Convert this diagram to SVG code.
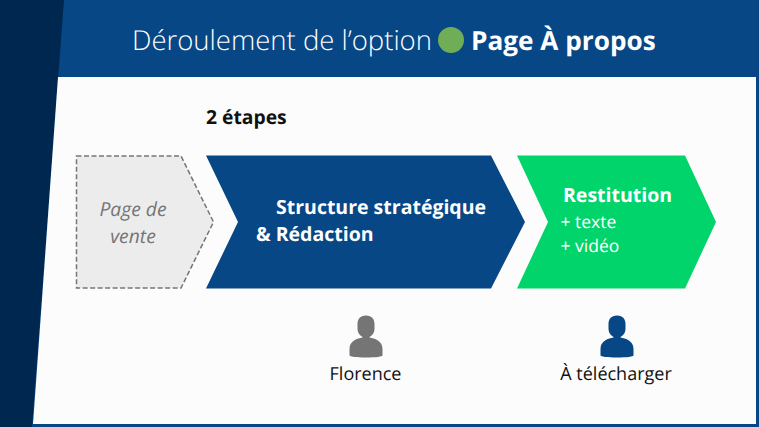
<svg xmlns="http://www.w3.org/2000/svg" width="759" height="427" viewBox="0 0 759 427">
<defs>
<style>
text{font-family:"Open Sans","Noto Sans",sans-serif;text-rendering:geometricPrecision}
.w{fill:#fff}
.b{font-weight:700}
.l{font-weight:300}
.k{fill:#111;font-size:18px}
</style>
<path id="person" d="M0 -26.500C-6 -26.500 -8.500 -22.500 -8.500 -18L-8.500 -13C-8.500 -9.500 -6.500 -6.500 -3.500 -5L-3.500 -4.500C-8.500 -3.500 -16.500 -1.500 -16.500 7L-16.500 13.500C-16.500 14.500 -10 15.500 0 15.500C10 15.500 16.500 14.500 16.500 13.500L16.500 7C16.500 -1.500 8.500 -3.500 3.500 -4.500L3.500 -5C6.500 -6.500 8.500 -9.500 8.500 -13L8.500 -18C8.500 -22.500 6 -26.500 0 -26.500Z"/>
</defs>
<rect width="759" height="427" fill="#074785"/>
<polygon points="0,0 64,0 32,427 0,427" fill="#00274f"/>
<polygon points="58,77 756,77 756,424 33,424" fill="#fcfcfd"/>
<g id="title">
<text x="132" y="50" class="w l" font-size="27.500">Déroulement de l’option</text>
<circle cx="451" cy="40" r="13" fill="#70ad57"/>
<text x="471" y="50" class="w b" font-size="26.200">Page À propos</text>
</g>
<text id="steps" x="206" y="124" class="b" font-size="19.300" fill="#111">2 étapes</text>
<g id="connectors"></g>
<g id="node-page">
<polygon points="76.500,156 181,156 213.500,222 181,288 76.500,288" fill="#ececec" stroke="#757575" stroke-width="1.500" stroke-dasharray="5 2.500"/>
<text x="133" y="216" font-size="19.300" font-style="italic" fill="#757575" text-anchor="middle">Page de</text>
<text x="133" y="243" font-size="19.300" font-style="italic" fill="#757575" text-anchor="middle">vente</text>
</g>
<g id="node-structure">
<polygon points="206,155.500 491,155.500 525,222 491,288.500 206,288.500 238,222" fill="#074785"/>
<text x="276" y="214" class="w b" font-size="19.500">Structure stratégique</text>
<text x="256" y="241" class="w b" font-size="19.500">&amp; Rédaction</text>
</g>
<g id="node-restitution">
<polygon points="517,155.500 685,155.500 716,222 685,288.500 517,288.500 548,222" fill="#00d46a"/>
<text x="563" y="202" class="w b" font-size="19.500">Restitution</text>
<text x="560.500" y="228" class="w" font-size="17.500">+ texte</text>
<text x="560.500" y="252" class="w" font-size="17.500">+ vidéo</text>
</g>
<g id="node-florence">
<use href="#person" x="366" y="342" fill="#757575"/>
<text x="365.500" y="380" class="k" text-anchor="middle">Florence</text>
</g>
<g id="node-telecharger">
<use href="#person" x="617" y="342" fill="#074785"/>
<text x="616" y="380" class="k" text-anchor="middle">À télécharger</text>
</g>
</svg>
